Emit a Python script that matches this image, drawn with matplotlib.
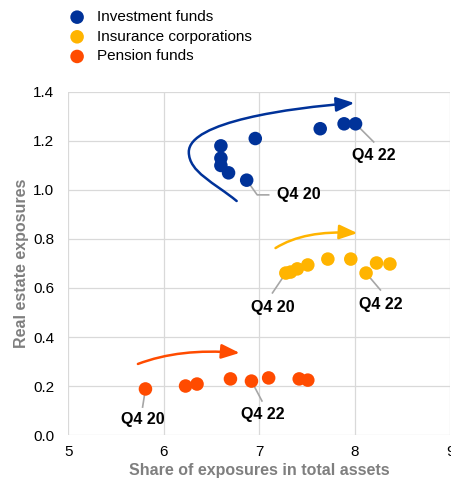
import matplotlib
matplotlib.use('Agg')
import matplotlib.pyplot as plt
from matplotlib.path import Path
from matplotlib.patches import FancyArrowPatch

plt.rcParams['font.family'] = ['Liberation Sans', 'DejaVu Sans']
plt.rcParams['font.size'] = 11

# data: share of exposures in total assets (x) vs real estate exposures (y), Q4 20 -> Q4 22
inv_x = [6.87, 6.68, 6.60, 6.60, 6.60, 6.96, 7.64, 7.89, 8.01]
inv_y = [1.04, 1.07, 1.10, 1.13, 1.18, 1.21, 1.25, 1.27, 1.27]
ins_x = [7.28, 7.33, 7.40, 7.51, 7.72, 7.96, 8.37, 8.23, 8.12]
ins_y = [0.661, 0.665, 0.678, 0.694, 0.718, 0.718, 0.698, 0.702, 0.661]
pen_x = [5.81, 6.23, 6.35, 6.70, 7.10, 7.42, 7.51, 6.92]
pen_y = [0.188, 0.200, 0.208, 0.229, 0.233, 0.229, 0.224, 0.220]

series = ['Investment funds', 'Insurance corporations', 'Pension funds']
colors = ['#003299', '#FFB400', '#FF4B00']
grey = '#7f7f7f'

fig = plt.figure(figsize=(4.51, 4.84), dpi=100)
ax = fig.add_axes([0.151, 0.1012, 0.847, 0.7088])

for xs, ys, c, name in zip([inv_x, ins_x, pen_x], [inv_y, ins_y, pen_y], colors, series):
    ax.scatter(xs, ys, s=95, color=c, edgecolor='none', label=name, zorder=3)

# trend arrows (curved paths)
inv_arrow = [(6.765, 0.955), (6.535, 1.029), (6.264, 1.073), (6.264, 1.155),
             (6.264, 1.278), (7.319, 1.335), (7.997, 1.355)]
ins_arrow = [(7.172, 0.763), (7.475, 0.837), (8.029, 0.824)]
pen_arrow = [(5.731, 0.290), (6.170, 0.355), (6.796, 0.335)]

codes4 = [Path.MOVETO] + [Path.CURVE4] * 6
codes3 = [Path.MOVETO, Path.CURVE3, Path.CURVE3]
for pts, codes, c in [(inv_arrow, codes4, colors[0]), (ins_arrow, codes3, colors[1]),
                      (pen_arrow, codes3, colors[2])]:
    arr = FancyArrowPatch(path=Path(pts, codes),
                          arrowstyle='-|>,head_length=0.55,head_width=0.22',
                          mutation_scale=20, color=c, lw=1.8, zorder=2)
    ax.add_patch(arr)

# labels with grey leader lines: (dot, line end, text pos, ha)
labels = [
    ('Q4 20', [(6.87, 1.04), (6.98, 0.98), (7.10, 0.98)], (7.19, 0.98), 'left'),
    ('Q4 22', [(8.01, 1.27), (8.20, 1.196)], (8.20, 1.139), 'center'),
    ('Q4 20', [(7.28, 0.661), (7.14, 0.580)], (7.14, 0.522), 'center'),
    ('Q4 22', [(8.12, 0.661), (8.27, 0.592)], (8.27, 0.531), 'center'),
    ('Q4 20', [(5.81, 0.188), (5.78, 0.114)], (5.78, 0.065), 'center'),
    ('Q4 22', [(6.92, 0.220), (7.03, 0.139)], (7.04, 0.082), 'center'),
]
for txt, line, pos, ha in labels:
    ax.plot([p[0] for p in line], [p[1] for p in line], color='#a6a6a6', lw=1.2, zorder=1)
    ax.text(pos[0], pos[1], txt, ha=ha, va='center', fontweight='bold', fontsize=11.5)

ax.set_xlim(5, 9)
ax.set_ylim(0, 1.4)
ax.set_xticks([5, 6, 7, 8, 9])
ax.set_yticks([0, 0.2, 0.4, 0.6, 0.8, 1.0, 1.2, 1.4])
ax.set_yticklabels([f'{v:.1f}' for v in ax.get_yticks()])
ax.grid(True, color='#d9d9d9', lw=0.9)
ax.set_axisbelow(True)
for s in ax.spines.values():
    s.set_visible(False)
ax.tick_params(length=0, labelsize=11, pad=7)
ax.tick_params(axis='y', pad=10)
ax.set_xlabel('Share of exposures in total assets', color=grey, fontweight='bold',
              fontsize=11.5, labelpad=3)
ax.set_ylabel('Real estate exposures', color=grey, fontweight='bold',
              fontsize=11.5, labelpad=3)

fig.legend(loc='upper left', bbox_to_anchor=(0.154, 0.979), frameon=False,
           handletextpad=0.8, labelspacing=0.37, borderaxespad=0, borderpad=0,
           handlelength=1.0, fontsize=11)

fig.savefig('out.png', dpi=100)
